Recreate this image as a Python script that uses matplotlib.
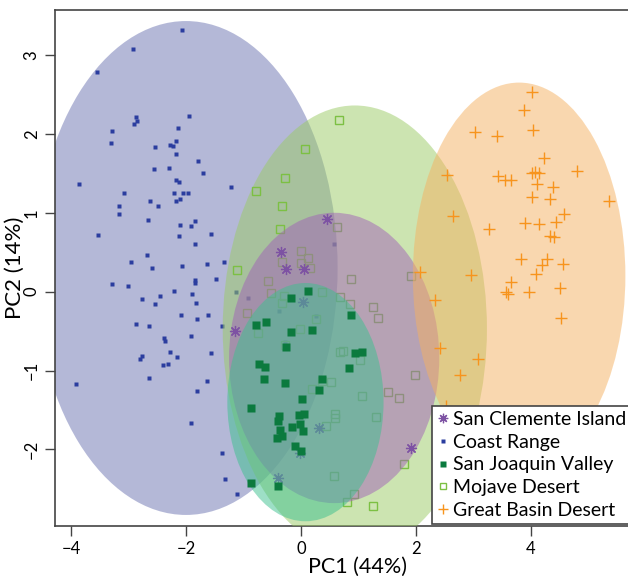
import numpy as np
import matplotlib.pyplot as plt
from matplotlib.patches import Ellipse
from matplotlib.lines import Line2D

plt.rcParams['font.family'] = ['Lato', 'DejaVu Sans']

# PCA scores, one pair of lists per region
coast_x = [-2.07, -2.92, -3.55, -2.87, -2.86, -2.90, -1.94, -3.29, -2.14, -3.30, -2.18, -2.28,
           -2.22, -2.54, -2.17, -1.79, -2.29, -2.56, -1.71, -3.86, -2.17, -2.12, -1.21, -3.08,
           -2.20, -2.05, -1.96, -2.62, -2.10, -2.18, -2.49, -3.17, -3.17, -2.66, -1.85, -1.91,
           -2.11, -3.54, -2.12, -1.56, -1.84, -2.67, -2.96, -2.59, -2.07, -1.64, -1.33, -3.29,
           -3.01, -1.84, -1.84, -1.48, -2.20, -2.45, -1.90, -2.76, -2.54, -1.82, -2.09, -1.81,
           -1.62, -1.38, -2.87, -2.64, -2.38, -2.36, -1.91, -2.28, -2.16, -1.56, -2.77, -2.80,
           -2.40, -2.32, -2.64, -3.92, -1.63, -1.80, -1.91, -1.37, -1.32, -1.11, 0.575, -0.92,
           -0.38, 0.26, -1.13, -0.27]
coast_y = [3.32, 3.07, 2.78, 2.22, 2.16, 2.13, 2.23, 2.04, 2.07, 1.88, 1.91, 1.86,
           1.85, 1.83, 1.75, 1.66, 1.57, 1.55, 1.51, 1.36, 1.42, 1.39, 1.33, 1.25,
           1.25, 1.25, 1.25, 1.15, 1.18, 1.15, 1.09, 1.09, 0.99, 0.91, 0.89, 0.83,
           0.84, 0.72, 0.71, 0.73, 0.60, 0.46, 0.37, 0.30, 0.32, 0.35, 0.37, 0.10,
           0.07, 0.15, 0.11, 0.16, 0.01, -0.05, -0.03, -0.09, -0.16, -0.14, -0.30, -0.35,
           -0.30, -0.44, -0.41, -0.44, -0.59, -0.63, -0.56, -0.76, -0.83, -0.78, -0.82, -0.85,
           -0.93, -0.92, -1.09, -1.17, -1.13, -1.26, -1.67, -2.05, -2.37, -2.56, 0.61, -0.08,
           -0.25, -0.31, 0.00, -0.64]

mojave_x = [0.08, -0.27, -0.78, -0.32, -0.36, -1.11, -0.33, 0.00, 0.12, 0.00, 0.16, -0.58,
            -0.52, -0.30, 0.66, 0.63, 0.87, 1.91, 0.36, 0.68, -0.32, -0.93, 0.26, -0.02,
            0.86, 1.26, 1.35, -0.74, -0.27, 0.52, 0.37, 0.19, 0.59, 0.59, 0.43, 0.57,
            0.68, 0.74, 1.03, 1.99, 1.52, 1.71, 1.06, 1.31, 1.79, 0.92, 0.80, 1.26]
mojave_y = [1.81, 1.44, 1.28, 1.08, 0.79, 0.28, 0.38, 0.52, 0.43, 0.36, 0.30, 0.13,
            -0.02, -0.06, 2.18, 0.82, 0.16, 0.20, 0.00, -0.07, -0.14, -0.27, -0.35, -0.47,
            -0.16, -0.19, -0.34, -0.52, -0.68, -1.14, -1.13, -1.23, -1.55, -1.60, -1.70, -2.33,
            -0.77, -0.75, -0.87, -1.06, -1.27, -1.35, -1.32, -1.59, -2.19, -2.56, -2.67, -2.72]

sci_x = [0.46, -0.35, -0.26, 0.06, 0.04, -1.15, 0.31, -0.02, -0.40, 1.92]
sci_y = [0.92, 0.50, 0.29, 0.29, -0.13, -0.50, -1.73, -2.05, -2.36, -1.98]

sjv_x = [0.13, -0.17, -0.78, -0.61, -0.18, 0.20, -0.25, 0.87, -0.73, -0.62, -0.65, -0.28,
         0.37, 0.32, 0.02, -0.86, -0.38, -0.40, -0.03, 0.06, -0.37, -0.15, -0.02, 0.04,
         -0.33, -0.41, -0.11, 0.01, -0.86, -0.40, 0.94, 1.06, 0.84]
sjv_y = [0.01, -0.08, -0.42, -0.39, -0.51, -0.48, -0.70, -0.30, -0.92, -0.95, -1.11, -1.16,
         -1.11, -1.25, -1.36, -1.47, -1.57, -1.64, -1.56, -1.55, -1.75, -1.72, -1.68, -1.77,
         -1.83, -1.86, -1.95, -2.02, -2.42, -2.46, -0.78, -0.77, -0.97]

gb_x = [4.03, 3.89, 3.04, 3.41, 4.04, 4.24, 4.80, 2.54, 3.44, 3.55, 3.65, 4.02, 4.08, 4.14,
        4.11, 4.39, 5.37, 4.03, 4.33, 2.65, 4.58, 3.28, 3.90, 4.14, 4.44, 4.33, 4.41, 3.83,
        4.29, 4.20, 4.56, 4.10, 3.66, 3.58, 3.61, 3.97, 4.51, 4.53, 2.08, 2.97, 2.33, 2.42,
        3.08, 2.77, 2.52]
gb_y = [2.53, 2.30, 2.03, 1.97, 2.05, 1.69, 1.53, 1.48, 1.46, 1.42, 1.41, 1.50, 1.52, 1.51,
        1.36, 1.33, 1.15, 1.20, 1.17, 0.96, 0.98, 0.80, 0.87, 0.86, 0.88, 0.70, 0.69, 0.42,
        0.41, 0.34, 0.35, 0.23, 0.12, 0.00, -0.03, -0.01, 0.05, -0.34, 0.25, 0.21, -0.11, -0.71,
        -0.85, -1.06, -1.45]

# ellipse centre, width, height (data units)
ell_coast = ((-2.0, 0.30), 5.28, 6.26)
ell_mojave = ((0.94, -0.47), 4.6, 5.66)
ell_sci = ((0.58, -0.84), 3.66, 3.68)
ell_sjv = ((0.08, -1.40), 2.72, 3.02)
ell_gb = ((3.80, 0.20), 3.70, 4.90)

fig = plt.figure(figsize=(6.28, 5.76), dpi=100)
ax = fig.add_axes([55/628, 50/576, 606/628, 516/576])

groups = [
    (ell_coast, '#6b73b1', coast_x, coast_y, dict(marker='s', ms=3.2, color='#2b3d9f', mec='none')),
    (ell_mojave, '#9bcb65', mojave_x, mojave_y, dict(marker='s', ms=5.2, mfc='none', mec='#7cc043', mew=1.0)),
    (ell_sci, '#a161b8', sci_x, sci_y, dict(marker=(8, 2, 0), ms=8, color='#7d52a3', mew=0.9)),
    (ell_sjv, '#3cc08f', sjv_x, sjv_y, dict(marker='s', ms=5.5, color='#0b7a3e', mec='none')),
    (ell_gb, '#f5b161', gb_x, gb_y, dict(marker='+', ms=9, color='#f7941d', mew=1.0)),
]
z = 1
for (c, w, h), fc, xs, ys, kw in groups:
    ax.add_patch(Ellipse(c, w, h, fc=fc, ec='none', alpha=0.5, zorder=z))
    ax.plot(xs, ys, ls='none', zorder=z + 1, **kw)
    z += 2

ax.set_xlim(-4.28, 6.27)
ax.set_ylim(-2.97, 3.57)
ax.set_xticks([-4, -2, 0, 2, 4])
ax.set_yticks([-2, -1, 0, 1, 2, 3])
ax.tick_params(direction='out', length=7, width=1, color='#444444', labelsize=12, pad=4)
for lab in ax.get_yticklabels():
    lab.set_rotation(90)
    lab.set_va('center')
for s in ax.spines.values():
    s.set_color('#444444')
    s.set_linewidth(1.2)
ax.set_xlabel('PC1 (44%)', fontsize=15.5, labelpad=0)
ax.set_ylabel('PC2 (14%)', fontsize=16, labelpad=-1)

names = ['San Clemente Island', 'Coast Range', 'San Joaquin Valley', 'Mojave Desert', 'Great Basin Desert']
order = [2, 0, 3, 1, 4]
handles = []
for i in order:
    kw = dict(groups[i][4])
    kw['ms'] = kw['ms'] * 0.85
    handles.append(Line2D([], [], ls='none', **kw))
leg = ax.legend(handles, names, loc='lower left', bbox_to_anchor=(0.622, 0.004), fontsize=14,
                frameon=True, fancybox=False, framealpha=1, edgecolor='#444444',
                handlelength=0.6, handletextpad=0.25, borderpad=0.25, labelspacing=0.3,
                borderaxespad=0)
leg.get_frame().set_linewidth(1.2)
leg.set_zorder(20)

fig.savefig('out.png', dpi=100)
